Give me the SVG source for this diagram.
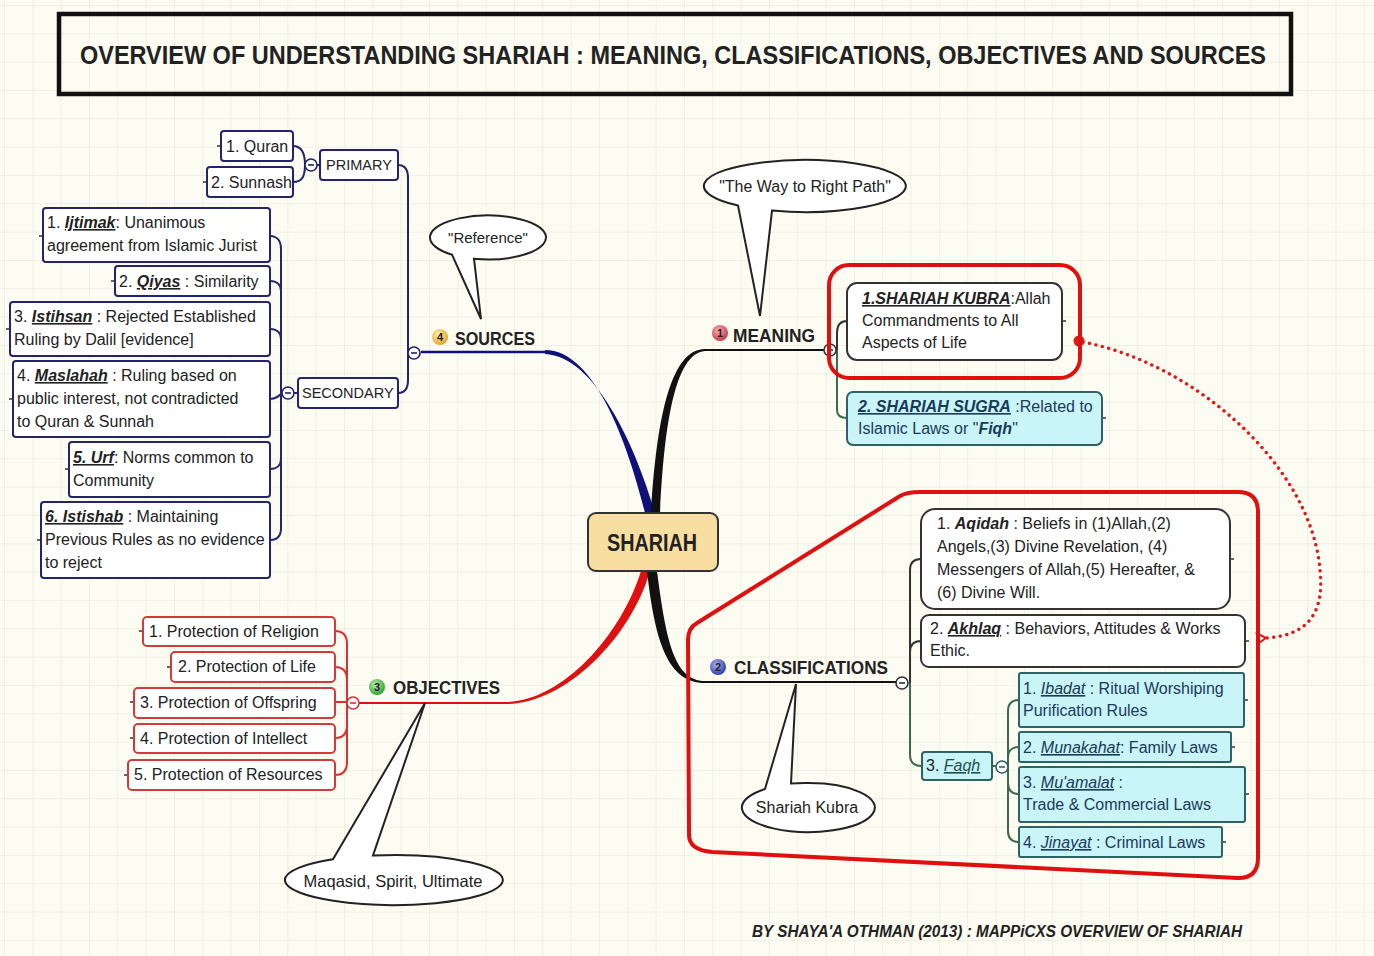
<svg xmlns="http://www.w3.org/2000/svg" width="1374" height="956" viewBox="0 0 1374 956">
<defs>
<pattern id="grid" x="4" y="5" width="28.33" height="28.33" patternUnits="userSpaceOnUse">
<path d="M28.33 0 L0 0 L0 28.33" fill="none" stroke="#e3e3d3" stroke-width="1"/>
</pattern>
<radialGradient id="gRed" cx="0.4" cy="0.35" r="0.7"><stop offset="0" stop-color="#f8b0b8"/><stop offset="1" stop-color="#c8303c"/></radialGradient>
<radialGradient id="gBlue2" cx="0.4" cy="0.35" r="0.7"><stop offset="0" stop-color="#a8b4f0"/><stop offset="1" stop-color="#2a38a8"/></radialGradient>
<radialGradient id="gGreen" cx="0.4" cy="0.35" r="0.7"><stop offset="0" stop-color="#b8f0b0"/><stop offset="1" stop-color="#2c9a2c"/></radialGradient>
<radialGradient id="gYellow" cx="0.4" cy="0.35" r="0.7"><stop offset="0" stop-color="#fff0b0"/><stop offset="1" stop-color="#e0a020"/></radialGradient>
<marker id="openArrow" markerWidth="14" markerHeight="14" refX="2" refY="7" orient="auto" markerUnits="userSpaceOnUse">
<path d="M12,1 L2,7 L12,13" fill="none" stroke="#e01818" stroke-width="2"/>
</marker>
</defs>
<style>
text{font-family:"Liberation Sans",Arial,sans-serif;fill:#222;}
.body{font-size:16px;}
.bi{font-weight:bold;font-style:italic;}
.u{text-decoration:underline;}
.it{font-style:italic;}
.navyBox{fill:#fff;stroke:#23236e;stroke-width:2;}
.redBox{fill:#fff;stroke:#d33a3a;stroke-width:2;}
.darkBox{fill:#fff;stroke:#333;stroke-width:2;}
.cyanBox{fill:#c9f4f8;stroke:#2f6262;stroke-width:2;}
.cyanText{fill:#1a3a5a;}
.navyLine{fill:none;stroke:#23236e;stroke-width:2;}
.redLine{fill:none;stroke:#d83030;stroke-width:2;}
.darkLine{fill:none;stroke:#333;stroke-width:2;}
.greenLine{fill:none;stroke:#3d6b4f;stroke-width:2;}
.tick{stroke:#333;stroke-width:1.5;}
.coll{fill:#fff;stroke-width:1.6;}
.branch{font-size:18px;font-weight:bold;}
.callout{fill:#fff;stroke:#222;stroke-width:2;}
</style>
<rect x="0" y="0" width="1374" height="956" fill="#fcfcf2"/>
<rect x="0" y="0" width="1374" height="956" fill="url(#grid)"/>

<g id="title">
<rect x="59" y="14" width="1232" height="80" fill="none" stroke="#111" stroke-width="4.5"/>
<text x="80" y="64" font-size="25" font-weight="bold" textLength="1186" lengthAdjust="spacingAndGlyphs" fill="#111">OVERVIEW OF UNDERSTANDING SHARIAH : MEANING, CLASSIFICATIONS, OBJECTIVES AND SOURCES</text>
</g>

<g id="connectors">
<!-- main branches -->
<path d="M645,513 C628,445 595,350 545,350 L545,354 C596,356 637,450 655,513 Z" fill="#10107a"/>
<path d="M421,352 L546,352" stroke="#10107a" stroke-width="2.4"/>
<path d="M651,513 C656,430 668,349 705,349 L705,351 C674,353 664,430 660,513 Z" fill="#111"/>
<path d="M704,350 L824,350" stroke="#111" stroke-width="2"/>
<path d="M641,571 C620,638 560,702 505,702 L505,704 C563,705 630,640 650,571 Z" fill="#e01010"/>
<path d="M359,703 L506,703" stroke="#e01010" stroke-width="2.2"/>
<path d="M647,571 C655,642 668,683 705,683 L705,681 C674,681 666,640 657,571 Z" fill="#111"/>
<path d="M704,682 L896,682" stroke="#111" stroke-width="2"/>

<!-- sources -->
<path class="navyLine" d="M293,146 C301,146 305,152 305,165 C305,178 301,182 293,182"/>
<path class="navyLine" d="M317,165 L320,165"/>
<path class="navyLine" d="M398,165 C405,165 408,170 408,178 L408,380 C408,388 405,393 398,393"/>
<path class="navyLine" d="M294,393 L298,393"/>
<path class="navyLine" d="M270,236 C277,236 281,241 281,249 L281,528 C281,536 277,540 270,540"/>
<path class="navyLine" d="M270,281 C277,281 281,285 281,291"/>
<path class="navyLine" d="M270,329 C277,329 281,333 281,339"/>
<path class="navyLine" d="M270,399 C276,399 279,396 282,393"/>
<path class="navyLine" d="M270,469 C277,469 281,465 281,459"/>
<circle class="coll" cx="311" cy="165" r="6" stroke="#23236e"/><path d="M308,165 L314,165" stroke="#23236e" stroke-width="1.6"/>
<circle class="coll" cx="288" cy="393" r="6" stroke="#23236e"/><path d="M285,393 L291,393" stroke="#23236e" stroke-width="1.6"/>
<circle class="coll" cx="414" cy="353" r="6" stroke="#23236e"/><path d="M411,353 L417,353" stroke="#23236e" stroke-width="1.6"/>

<!-- objectives -->
<path class="redLine" d="M335,631 C343,631 347,636 347,644 L347,762 C347,770 343,775 335,775"/>
<path class="redLine" d="M335,667 C343,667 347,672 347,680"/>
<path class="redLine" d="M335,702 L347,702"/>
<path class="redLine" d="M335,738 C343,738 347,733 347,725"/>
<circle class="coll" cx="353" cy="703" r="6" stroke="#d83030"/><path d="M350,703 L356,703" stroke="#d83030" stroke-width="1.6"/>

<!-- meaning -->
<path class="darkLine" d="M847,321 C840,321 837,326 837,333 L837,350"/>
<path class="greenLine" d="M837,350 L837,410 C837,415 840,418 847,418"/>
<circle class="coll" cx="830" cy="350" r="6" stroke="#333"/><path d="M827,350 L833,350" stroke="#333" stroke-width="1.6"/>

<!-- classifications -->
<path class="darkLine" d="M921,559 C914,559 910,563 910,570 L910,683"/>
<path class="darkLine" d="M921,641 C914,641 910,645 910,652"/>
<path class="greenLine" d="M910,683 L910,755 C910,762 914,766 922,766"/>
<path class="greenLine" d="M992,766 L996,766"/>
<path class="greenLine" d="M1019,700 C1012,700 1008,704 1008,711 L1008,831 C1008,838 1012,842 1019,842"/>
<path class="greenLine" d="M1019,747 C1012,747 1008,751 1008,757"/>
<path class="greenLine" d="M1019,794 C1012,794 1008,790 1008,783"/>
<circle class="coll" cx="902" cy="683" r="6" stroke="#333"/><path d="M899,683 L905,683" stroke="#333" stroke-width="1.6"/>
<circle class="coll" cx="1002" cy="767" r="6" stroke="#2f6262"/><path d="M999,767 L1005,767" stroke="#2f6262" stroke-width="1.6"/>

<!-- ticks -->
<path class="tick" d="M221,146 L217,146 M207,182 L203,182 M43,236 L39,236 M115,281 L111,281 M10,329 L6,329 M13,399 L9,399 M69,469 L65,469 M41,540 L37,540 M143,631 L139,631 M171,667 L167,667 M134,702 L130,702 M134,738 L130,738 M128,775 L124,775 M1062,321 L1066,321 M1102,418 L1106,418 M1230,559 L1234,559 M1245,641 L1249,641 M1244,700 L1248,700 M1231,747 L1235,747 M1245,794 L1249,794 M1222,842 L1226,842"/>

<!-- dotted relation -->
<path d="M1083,342 C1200,365 1312,470 1320,570 C1326,625 1295,636 1266,638" fill="none" stroke="#e01818" stroke-width="3.4" stroke-dasharray="0.1,6.5" stroke-linecap="round" marker-end="url(#openArrow)"/>
<circle cx="1079" cy="341" r="5.5" fill="#e01818"/>
</g>

<g id="highlight-meaning">
<rect x="829" y="265" width="251" height="113" rx="20" fill="none" stroke="#e01010" stroke-width="4"/>
</g>
<g id="highlight-classifications">
<path d="M697,623 L900,496 Q907,492 920,492 L1238,492 Q1258,492 1258,512 L1258,858 Q1258,878 1238,878 L712,852 Q689,850 689,835 L688,640 Q688,628 697,623 Z" fill="none" stroke="#e01010" stroke-width="4"/>
</g>

<g id="node-shariah">
<rect x="588" y="513" width="130" height="58" rx="8" fill="#f8dea0" stroke="#333" stroke-width="2"/>
<text x="652" y="551" font-size="24" text-anchor="middle" fill="#3a3a2a" font-weight="bold" textLength="90" lengthAdjust="spacingAndGlyphs">SHARIAH</text>
</g>

<g id="node-sources">
<circle cx="440" cy="337" r="8" fill="url(#gYellow)"/>
<text x="440" y="341" font-size="11" font-weight="bold" text-anchor="middle" fill="#8a6a10">4</text>
<text class="branch" x="455" y="345" fill="#1a237e" textLength="80" lengthAdjust="spacingAndGlyphs">SOURCES</text>
</g>
<g id="node-primary">
<rect class="navyBox" x="320" y="150" width="78" height="30" rx="3"/>
<text x="326" y="170" font-size="14.5">PRIMARY</text>
</g>
<g id="node-quran">
<rect class="navyBox" x="221" y="131" width="72" height="30" rx="3"/>
<text class="body" x="226" y="152">1. Quran</text>
</g>
<g id="node-sunnash">
<rect class="navyBox" x="207" y="167" width="86" height="30" rx="3"/>
<text class="body" x="211" y="188">2. Sunnash</text>
</g>
<g id="node-secondary">
<rect class="navyBox" x="298" y="378" width="100" height="30" rx="3"/>
<text x="302" y="398" font-size="14.5">SECONDARY</text>
</g>
<g id="node-ijtimak">
<rect class="navyBox" x="43" y="208" width="227" height="54" rx="3"/>
<text class="body" x="47" y="228">1. <tspan class="bi u">Ijtimak</tspan>: Unanimous</text>
<text class="body" x="47" y="251">agreement from Islamic Jurist</text>
</g>
<g id="node-qiyas">
<rect class="navyBox" x="115" y="266" width="155" height="30" rx="3"/>
<text class="body" x="119" y="287">2. <tspan class="bi u">Qiyas</tspan> : Similarity</text>
</g>
<g id="node-istihsan">
<rect class="navyBox" x="10" y="302" width="260" height="54" rx="3"/>
<text class="body" x="14" y="322">3. <tspan class="bi u">Istihsan</tspan> : Rejected Established</text>
<text class="body" x="14" y="345">Ruling by Dalil [evidence]</text>
</g>
<g id="node-maslahah">
<rect class="navyBox" x="13" y="361" width="257" height="76" rx="3"/>
<text class="body" x="17" y="381">4. <tspan class="bi u">Maslahah</tspan> : Ruling based on</text>
<text class="body" x="17" y="404">public interest,  not contradicted</text>
<text class="body" x="17" y="427">to Quran &amp; Sunnah</text>
</g>
<g id="node-urf">
<rect class="navyBox" x="69" y="442" width="201" height="55" rx="3"/>
<text class="body" x="73" y="463"><tspan class="bi u">5. Urf</tspan>: Norms common to</text>
<text class="body" x="73" y="486">Community</text>
</g>
<g id="node-istishab">
<rect class="navyBox" x="41" y="502" width="229" height="76" rx="3"/>
<text class="body" x="45" y="522"><tspan class="bi u">6. Istishab</tspan> : Maintaining</text>
<text class="body" x="45" y="545">Previous Rules as no evidence</text>
<text class="body" x="45" y="568">to reject</text>
</g>
<g id="callout-reference">
<path class="callout" d="M452,254.7 L481,319 L474,258.8 A58,22 0 1 0 452,254.7 Z" stroke="#23236e"/>
<text x="488" y="243" font-size="15" text-anchor="middle">"Reference"</text>
</g>

<g id="node-objectives">
<circle cx="377" cy="687" r="8" fill="url(#gGreen)"/>
<text x="377" y="691" font-size="11" font-weight="bold" text-anchor="middle" fill="#0a3a0a">3</text>
<text class="branch" x="393" y="694" fill="#d02020" textLength="107" lengthAdjust="spacingAndGlyphs">OBJECTIVES</text>
</g>
<g id="node-obj1">
<rect class="redBox" x="143" y="617" width="192" height="29" rx="4"/>
<text class="body" x="149" y="637">1. Protection of Religion</text>
</g>
<g id="node-obj2">
<rect class="redBox" x="171" y="652" width="164" height="30" rx="4"/>
<text class="body" x="178" y="672">2. Protection of Life</text>
</g>
<g id="node-obj3">
<rect class="redBox" x="134" y="688" width="201" height="30" rx="4"/>
<text class="body" x="140" y="708">3. Protection of Offspring</text>
</g>
<g id="node-obj4">
<rect class="redBox" x="134" y="724" width="201" height="29" rx="4"/>
<text class="body" x="140" y="744">4. Protection of Intellect</text>
</g>
<g id="node-obj5">
<rect class="redBox" x="128" y="760" width="207" height="30" rx="4"/>
<text class="body" x="134" y="780">5. Protection of Resources</text>
</g>
<g id="callout-maqasid">
<path class="callout" d="M333,859.3 L425,703 L373,855.5 A109,25 0 1 1 333,859.3 Z" stroke="#d02020"/>
<text x="393" y="887" font-size="16.5" text-anchor="middle">Maqasid, Spirit, Ultimate</text>
</g>

<g id="node-meaning">
<circle cx="720" cy="333" r="8" fill="url(#gRed)"/>
<text x="720" y="337" font-size="11" font-weight="bold" text-anchor="middle" fill="#5a0a10">1</text>
<text class="branch" x="733" y="342" textLength="82" lengthAdjust="spacingAndGlyphs">MEANING</text>
</g>
<g id="node-kubra">
<rect class="darkBox" x="847" y="283" width="215" height="77" rx="10"/>
<text class="body" x="862" y="304"><tspan class="bi u">1.SHARIAH KUBRA</tspan>:Allah</text>
<text class="body" x="862" y="326">Commandments to All</text>
<text class="body" x="862" y="348">Aspects of Life</text>
</g>
<g id="node-sugra">
<rect class="cyanBox" x="847" y="392" width="255" height="53" rx="6"/>
<text class="body cyanText" x="858" y="412"><tspan class="bi u">2. SHARIAH SUGRA</tspan> :Related to</text>
<text class="body cyanText" x="858" y="434">Islamic Laws or "<tspan class="bi">Fiqh</tspan>"</text>
</g>
<g id="callout-way">
<path class="callout" d="M738,205.5 L760,316 L772,210.6 A101,26 0 1 0 738,205.5 Z"/>
<text x="805" y="192" font-size="16" text-anchor="middle">"The Way to Right Path"</text>
</g>

<g id="node-classifications">
<circle cx="718" cy="667" r="8" fill="url(#gBlue2)"/>
<text x="718" y="671" font-size="11" font-weight="bold" text-anchor="middle" fill="#fff">2</text>
<text class="branch" x="734" y="674" textLength="154" lengthAdjust="spacingAndGlyphs">CLASSIFICATIONS</text>
</g>
<g id="node-aqidah">
<rect class="darkBox" x="921" y="509" width="309" height="100" rx="14"/>
<text class="body" x="937" y="529">1. <tspan class="bi">Aqidah</tspan> : Beliefs in (1)Allah,(2)</text>
<text class="body" x="937" y="552">Angels,(3) Divine Revelation, (4)</text>
<text class="body" x="937" y="575">Messengers of Allah,(5) Hereafter, &amp;</text>
<text class="body" x="937" y="598">(6) Divine Will.</text>
</g>
<g id="node-akhlaq">
<rect class="darkBox" x="921" y="615" width="324" height="52" rx="8"/>
<text class="body" x="930" y="634">2. <tspan class="bi u">Akhlaq</tspan> : Behaviors, Attitudes &amp; Works</text>
<text class="body" x="930" y="656">Ethic.</text>
</g>
<g id="node-faqh">
<rect class="cyanBox" x="922" y="752" width="70" height="28" rx="3"/>
<text class="body" x="926" y="771" fill="#1f5050">3. <tspan class="it u" fill="#1f5050">Faqh</tspan></text>
</g>
<g id="node-ibadat">
<rect class="cyanBox" x="1019" y="673" width="225" height="54" rx="2"/>
<text class="body cyanText" x="1023" y="694">1. <tspan class="it u">Ibadat</tspan> : Ritual Worshiping</text>
<text class="body cyanText" x="1023" y="716">Purification Rules</text>
</g>
<g id="node-munakahat">
<rect class="cyanBox" x="1019" y="732" width="212" height="30" rx="2"/>
<text class="body cyanText" x="1023" y="753">2. <tspan class="it u">Munakahat</tspan>: Family Laws</text>
</g>
<g id="node-muamalat">
<rect class="cyanBox" x="1019" y="767" width="226" height="55" rx="2"/>
<text class="body cyanText" x="1023" y="788">3. <tspan class="it u">Mu'amalat</tspan> :</text>
<text class="body cyanText" x="1023" y="810">Trade &amp; Commercial Laws</text>
</g>
<g id="node-jinayat">
<rect class="cyanBox" x="1019" y="827" width="203" height="30" rx="2"/>
<text class="body cyanText" x="1023" y="848">4. <tspan class="it u">Jinayat</tspan> : Criminal Laws</text>
</g>
<g id="callout-kubra">
<path class="callout" d="M765,789 L796,684 L791,783.5 L805,783.1 A66.5,24.5 0 1 1 765,789 Z"/>
<text x="807" y="813" font-size="16" text-anchor="middle">Shariah Kubra</text>
</g>

<g id="footer">
<text x="752" y="937" font-size="16" font-weight="bold" font-style="italic" textLength="490" lengthAdjust="spacingAndGlyphs">BY SHAYA'A OTHMAN (2013) : MAPPiCXS OVERVIEW OF SHARIAH</text>
</g>
</svg>
